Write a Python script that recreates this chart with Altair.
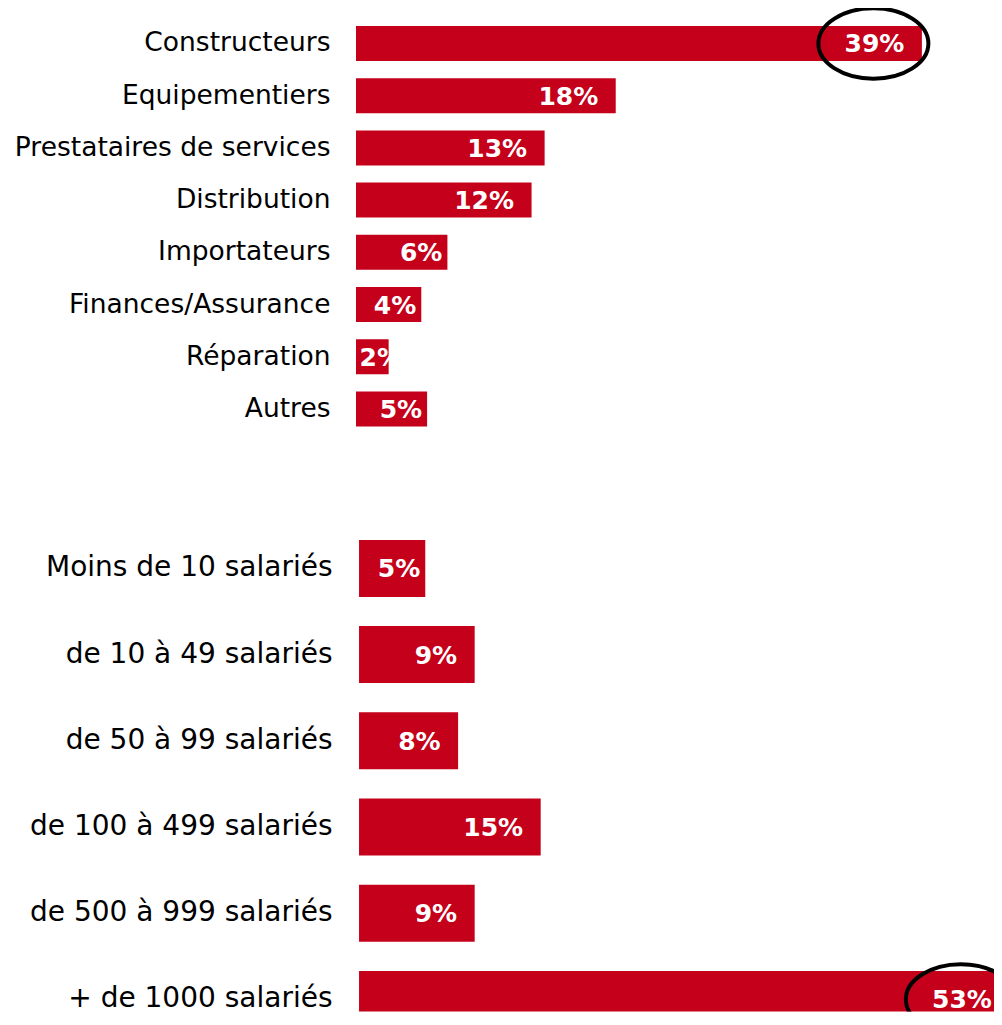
import altair as alt
import pandas as pd

# ---- data ----
sector_categories = ["Constructeurs", "Equipementiers", "Prestataires de services",
                     "Distribution", "Importateurs", "Finances/Assurance",
                     "Réparation", "Autres"]
sector_values = [39.0, 17.9, 13.0, 12.1, 6.3, 4.5, 2.25, 4.9]
sector_labels = ["39%", "18%", "13%", "12%", "6%", "4%", "2%", "5%"]

size_categories = ["Moins de 10 salariés", "de 10 à 49 salariés", "de 50 à 99 salariés",
                   "de 100 à 499 salariés", "de 500 à 999 salariés", "+ de 1000 salariés"]
size_values = [5.47, 9.55, 8.18, 15.0, 9.55, 53.7]
size_labels = ["5%", "9%", "8%", "15%", "9%", "53%"]

highlighted = ["Constructeurs", "+ de 1000 salariés"]

RED = "#C4001A"
FONT = "DejaVu Sans"
ELLIPSE = "M -1 0 A 1 0.64 0 1 1 1 0 A 1 0.64 0 1 1 -1 0 Z"


def panel(cats, vals, labs, S, x_domain, width, height, y_scale, label_size, label_pad):
    df = pd.DataFrame({"cat": cats, "value": vals, "label": labs})
    xscale = alt.Scale(domain=x_domain, nice=False, zero=False)
    base = alt.Chart(df).encode(
        y=alt.Y("cat:N", sort=cats, scale=y_scale,
                axis=alt.Axis(title=None, domain=False, ticks=False, tickSize=0,
                              labelFont=FONT, labelFontSize=label_size,
                              labelColor="#000000", labelPadding=label_pad,
                              labelLimit=600))
    )
    bars = base.mark_bar(color=RED, clip=True).encode(
        x=alt.X("value:Q", scale=xscale, axis=None)
    )
    pos = base.transform_calculate(
        lx=f"datum.value * {S} >= 95 ? datum.value - 17.5/{S} : max(datum.value - 5/{S}, 46/{S})"
    )
    text = pos.mark_text(align="right", baseline="middle", font=FONT, fontWeight="bold",
                         fontSize=25, color="white", dy=1, clip=True).encode(
        x=alt.X("lx:Q", scale=xscale, axis=None),
        text="label:N",
    )
    ell = pos.transform_filter(
        alt.FieldOneOfPredicate(field="cat", oneOf=highlighted)
    ).transform_calculate(
        ex=f"datum.lx - 31/{S}"
    ).mark_point(shape=ELLIPSE, size=12100, filled=False, color="black",
                 strokeWidth=4, opacity=1, clip=True).encode(
        x=alt.X("ex:Q", scale=xscale, axis=None)
    )
    return alt.layer(bars, text, ell).properties(width=width, height=height)


top = panel(sector_categories, sector_values, sector_labels, 14.51,
            [0, 638 / 14.51], 638, 436.4,
            alt.Scale(paddingInner=0.33, paddingOuter=0.345), 26.5, 26)

bottom = panel(size_categories, size_values, size_labels, 12.11,
               [-0.25, -0.25 + 638 / 12.11], 638, 471.7,
               alt.Scale(range=[0, 488], paddingInner=0.339, paddingOuter=0), 28, 24)

chart = alt.vconcat(top, bottom, spacing=94.9).resolve_scale(
    x="independent", y="independent"
).properties(
    padding={"left": 6, "top": 0, "right": 0, "bottom": 0},
    background="white",
).configure_view(stroke=None)

chart.save("out.html", embed_options={"renderer": "svg", "actions": False})
